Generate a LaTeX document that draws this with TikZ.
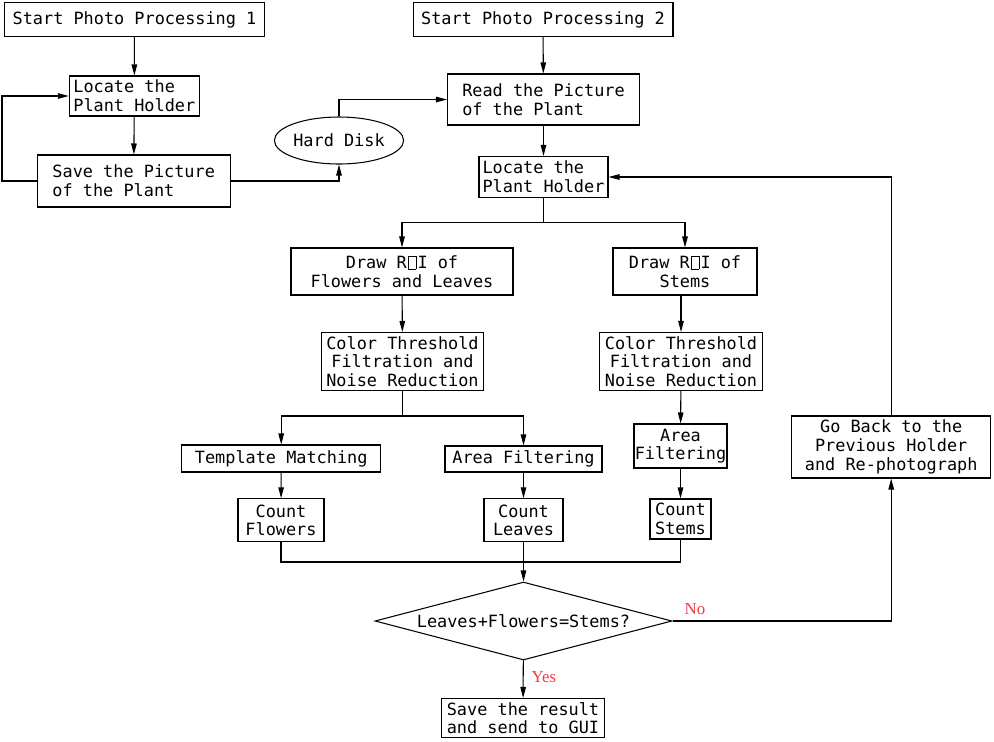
\documentclass[tikz,border=0pt]{standalone}
\usepackage{fontspec}
\usetikzlibrary{arrows.meta,shapes.geometric}
\newfontfamily\cadfont{DejaVu Sans Mono}
\newfontfamily\labelfont{Liberation Serif}
\definecolor{labelred}{RGB}{245,55,65}
\newcommand{\roibox}{\kern0.06em{\fboxsep=0pt\fboxrule=0.45pt\fbox{\rule{0pt}{0.72em}\hspace{0.42em}}}\kern0.06em}

\begin{document}
\begin{tikzpicture}[x=0.02cm, y=-0.02cm, line width=0.6pt,
		>={Triangle[length=2.2mm,width=1.1mm]},
		box/.style={draw, rectangle, inner sep=0pt, font=\cadfont\fontsize{9.6}{10.6}\selectfont},
		disk/.style={box, ellipse},
		decision/.style={box, diamond, aspect=3.8},
		answer/.style={font=\labelfont\fontsize{9.6}{11}\selectfont, text=labelred}]
		\useasboundingbox (0,0) rectangle (994,741);
		
		% zeichne Kaesten links
		\node[box, minimum width=5.2cm, minimum height=0.68cm] (start1) at (134.5,19.5) {Start Photo Processing 1};
		\node[box, align=left, minimum width=2.6cm, minimum height=0.8cm] (locate1) at (134.3,96) {Locate the\\Plant Holder};
		\node[box, align=left, minimum width=3.86cm, minimum height=1.04cm] (save1) at (133.7,181) {Save the Picture\\of the Plant};
		\node[disk, minimum width=2.42cm, minimum height=0.94cm] (disk) at (339,140.5) {Hard Disk};
		
		% zeichne Kaesten rechts
		\node[box, minimum width=5.2cm, minimum height=0.68cm] (start2) at (543,19.5) {Start Photo Processing 2};
		\node[box, align=left, minimum width=3.84cm, minimum height=1.02cm] (read) at (543.5,99.5) {Read the Picture\\of the Plant};
		\node[box, align=left, minimum width=2.58cm, minimum height=0.82cm] (locate2) at (543.5,177) {Locate the\\Plant Holder};
		\node[box, align=center, minimum width=4.44cm, minimum height=0.94cm] (roiL) at (402,271.5) {Draw R\roibox I of\\Flowers and Leaves};
		\node[box, align=center, minimum width=2.88cm, minimum height=0.94cm] (roiR) at (685,271.5) {Draw R\roibox I of\\Stems};
		\node[box, align=center, minimum width=3.24cm, minimum height=1.16cm] (colorL) at (402.5,361.5) {Color Threshold\\Filtration and\\Noise Reduction};
		\node[box, align=center, minimum width=3.26cm, minimum height=1.16cm] (colorR) at (681,361.5) {Color Threshold\\Filtration and\\Noise Reduction};
		\node[box, minimum width=3.98cm, minimum height=0.54cm] (template) at (281.2,458.5) {Template Matching};
		\node[box, minimum width=3.14cm, minimum height=0.52cm] (areaL) at (523.5,459) {Area Filtering};
		\node[box, align=center, minimum width=1.86cm, minimum height=0.88cm] (areaR) at (680.5,446) {Area\\Filtering};
		\node[box, align=center, minimum width=1.72cm, minimum height=0.86cm] (countF) at (281,520.3) {Count\\Flowers};
		\node[box, align=center, minimum width=1.58cm, minimum height=0.86cm] (countL) at (523.5,520.3) {Count\\Leaves};
		\node[box, align=center, minimum width=1.22cm, minimum height=0.8cm] (countS) at (680.5,519) {Count\\Stems};
		\node[decision, minimum width=5.94cm, minimum height=1.56cm] (check) at (523.5,621) {Leaves+Flowers=Stems?};
		\node[box, align=left, minimum width=3.26cm, minimum height=0.78cm] (result) at (523,718) {Save the result\\and send to GUI};
		\node[box, align=center, minimum width=3.98cm, minimum height=1.24cm] (goback) at (891.2,447) {Go Back to the\\Previous Holder\\and Re-photograph};
		
		% zeichne Labels
		\node[answer] (no) at (695,609) {No};
		\node[answer] (yes) at (544,677) {Yes};
		
		% Hilfspunkte
		\coordinate (loop1) at (2,96);
		\coordinate (split1) at (543.5,222.5);
		\coordinate (split2) at (402.5,416);
		\coordinate (merge) at (523.5,562);
		
		% zeichne Verbindungen
		\draw[->] (start1) -- (locate1);
		\draw[->] (locate1) -- (save1);
		\draw[->] (save1.west) -| (loop1) -- (locate1.west);
		\draw[->] (save1.east) -| (disk.south);
		\draw[->] (disk.north) |- (read.west);
		\draw[->] (start2) -- (read);
		\draw[->] (read) -- (locate2);
		\draw (locate2) -- (split1);
		\draw[->] (split1) -| (roiL);
		\draw[->] (split1) -| (roiR);
		\draw[->] (roiL) -- (colorL);
		\draw[->] (roiR.south -| colorR) -- (colorR);
		\draw (colorL) -- (split2);
		\draw[->] (split2) -| (template);
		\draw[->] (split2) -| (areaL);
		\draw[->] (colorR) -- (areaR);
		\draw[->] (template) -- (countF);
		\draw[->] (areaL) -- (countL);
		\draw[->] (areaR) -- (countS);
		\draw (countF) |- (merge);
		\draw (countS) |- (merge);
		\draw (countL) -- (merge);
		\draw[->] (merge) -- (check);
		\draw[->] (check.east) -| (goback);
		\draw[->] (goback) |- (locate2.east);
		\draw[->] (check) -- (result);
	\end{tikzpicture}
\end{document}
